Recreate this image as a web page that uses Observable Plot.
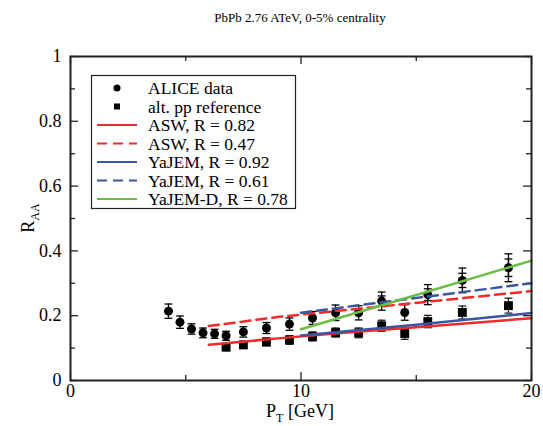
<!DOCTYPE html>
<html><head><meta charset="utf-8">
<script src="https://cdn.jsdelivr.net/npm/d3@7"></script>
<script src="https://cdn.jsdelivr.net/npm/@observablehq/plot@0.6"></script>
<style>body{margin:0;background:#fff} svg text{font-family:'Liberation Serif','Times New Roman',serif !important}</style>
</head><body><div id="chart"></div>
<script>
// ALICE data (circles)
const aliceX = [4.25,4.75,5.25,5.75,6.25,6.75,7.5,8.5,9.5,10.5,11.5,12.5,13.5,14.5,15.5,17,19];
const aliceY = [0.214,0.180,0.159,0.147,0.144,0.138,0.150,0.162,0.174,0.193,0.209,0.209,0.245,0.210,0.265,0.309,0.348];
const aliceSys = [0.022,0.019,0.016,0.015,0.014,0.014,0.016,0.017,0.019,0.020,0.024,0.022,0.028,0.024,0.031,0.038,0.043];
const aliceStat = [null,null,null,null,null,null,null,null,null,null,null,null,0.016,null,0.018,0.022,0.027];
// alt. pp reference (squares)
const ppX = [6.75,7.5,8.5,9.5,10.5,11.5,12.5,13.5,14.5,15.5,17,19];
const ppY = [0.103,0.110,0.119,0.125,0.136,0.148,0.147,0.169,0.145,0.182,0.210,0.231];
const ppErr = [0.011,0.011,0.012,0.013,0.014,0.014,0.015,0.017,0.018,0.019,0.020,0.023];
// model curves
const asw082X = [6,9,12,16,20], asw082Y = [0.110,0.130,0.148,0.170,0.192];
const asw047X = [6,9,12,16,20], asw047Y = [0.168,0.196,0.218,0.247,0.276];
const yaj092X = [10,15,20], yaj092Y = [0.139,0.172,0.208];
const yaj061X = [10,15,20], yaj061Y = [0.209,0.255,0.300];
const yajDX = [10,15,20], yajDY = [0.158,0.264,0.370];
// ticks and labels
const xMajor = [0,10,20], xMinor = [5,15];
const yMajor = [0,0.2,0.4,0.6,0.8,1], yMinor = [0.1,0.3,0.5,0.7,0.9];
const titleText = "PbPb 2.76 ATeV, 0-5% centrality";
const legendLabels = ["ALICE data","alt. pp reference","ASW, R = 0.82","ASW, R = 0.47","YaJEM, R = 0.92","YaJEM, R = 0.61","YaJEM-D, R = 0.78"];

const RED = "#ee2b2b", BLUE = "#3a55a4", GREEN = "#6cbd45";
const W = 543, H = 426, mL = 70, mR = 12, mT = 56, mB = 46;
const fH = H - mT - mB, fW = W - mL - mR;
const FONT = "Liberation Serif, Times New Roman, serif";

const alice = aliceX.map((x,i)=>({x, y:aliceY[i], sys:aliceSys[i], stat:aliceStat[i]}));
const aliceS = alice.filter(d=>d.stat!=null);
const pp = ppX.map((x,i)=>({x, y:ppY[i], e:ppErr[i]}));
const mk = (xs,ys)=>xs.map((x,i)=>({x, y:ys[i]}));
const capW = 0.17;

function errMarks(data, lo, hi, stroke){
  return [
    Plot.ruleX(data, {x:"x", y1:lo, y2:hi, stroke, strokeWidth:1.3}),
    Plot.link(data, {x1:d=>d.x-capW, x2:d=>d.x+capW, y1:lo, y2:lo, stroke, strokeWidth:1.3}),
    Plot.link(data, {x1:d=>d.x-capW, x2:d=>d.x+capW, y1:hi, y2:hi, stroke, strokeWidth:1.3})
  ];
}

const plot = Plot.plot({
  width: W, height: H, marginLeft: mL, marginRight: mR, marginTop: mT, marginBottom: mB,
  x: {domain:[0,20]}, y: {domain:[0,1]},
  style: {fontFamily: FONT, fontSize: "18px", background: "white", color: "black"},
  marks: [
    Plot.axisX({ticks: xMajor, tickSize: 0, tickPadding: 4, label: null, fontFamily: FONT, fontSize: 18, tickFormat: d=>String(d)}),
    Plot.axisY({ticks: yMajor, tickSize: 0, tickPadding: 9, label: null, fontFamily: FONT, fontSize: 18, tickFormat: d=> (d===0||d===1) ? String(d) : d.toFixed(1)}),
    Plot.tickX(xMajor, {x:d=>d, insetTop: fH-8, stroke:"#222", strokeWidth:1.3}),
    Plot.tickX(xMajor, {x:d=>d, insetBottom: fH-8, stroke:"#222", strokeWidth:1.3}),
    Plot.tickX(xMinor, {x:d=>d, insetTop: fH-5, stroke:"#222", strokeWidth:1.3}),
    Plot.tickX(xMinor, {x:d=>d, insetBottom: fH-5, stroke:"#222", strokeWidth:1.3}),
    Plot.tickY(yMajor, {y:d=>d, insetRight: fW-8, stroke:"#222", strokeWidth:1.3}),
    Plot.tickY(yMajor, {y:d=>d, insetLeft: fW-8, stroke:"#222", strokeWidth:1.3}),
    Plot.tickY(yMinor, {y:d=>d, insetRight: fW-5, stroke:"#222", strokeWidth:1.3}),
    Plot.tickY(yMinor, {y:d=>d, insetLeft: fW-5, stroke:"#222", strokeWidth:1.3}),
    ...errMarks(pp, d=>d.y-d.e, d=>d.y+d.e, "#222"),
    ...errMarks(alice, d=>d.y-d.sys, d=>d.y+d.sys, "black"),
    ...errMarks(aliceS, d=>d.y-d.stat, d=>d.y+d.stat, "black"),
    Plot.dot(pp, {x:"x", y:"y", symbol:"square", r:5, fill:"black"}),
    Plot.dot(alice, {x:"x", y:"y", r:4.5, fill:"black"}),
    Plot.line(mk(asw082X,asw082Y), {x:"x", y:"y", stroke:RED, strokeWidth:2.5}),
    Plot.line(mk(asw047X,asw047Y), {x:"x", y:"y", stroke:RED, strokeWidth:2.5, strokeDasharray:"10,6"}),
    Plot.line(mk(yaj092X,yaj092Y), {x:"x", y:"y", stroke:BLUE, strokeWidth:2.5}),
    Plot.line(mk(yaj061X,yaj061Y), {x:"x", y:"y", stroke:BLUE, strokeWidth:2.5, strokeDasharray:"10,6"}),
    Plot.line(mk(yajDX,yajDY), {x:"x", y:"y", stroke:GREEN, strokeWidth:2.5}),
    Plot.frame({stroke:"#222", strokeWidth:2})
  ]
});
document.getElementById("chart").appendChild(plot);

const svg = d3.select(plot);
// title
svg.append("text").attr("x", 300).attr("y", 22).attr("text-anchor","middle")
  .attr("font-family", FONT).attr("font-size", 13).attr("fill","black").text(titleText);
// x label
const xl = svg.append("text").attr("x", 300).attr("y", 417).attr("text-anchor","middle")
  .attr("font-family", FONT).attr("font-size", 18).attr("fill","black");
xl.append("tspan").text("P");
xl.append("tspan").attr("font-size", 12).attr("dy", 5).text("T");
xl.append("tspan").attr("dy", -5).text(" [GeV]");
// y label
const yl = svg.append("text").attr("transform","translate(34,218) rotate(-90)").attr("text-anchor","middle")
  .attr("font-family", FONT).attr("font-size", 18).attr("fill","black");
yl.append("tspan").text("R");
yl.append("tspan").attr("font-size", 12).attr("dy", 5).text("AA");

// legend
const lg = svg.append("g").attr("font-family", FONT).attr("font-size", 17.5).attr("fill","black").attr("text-anchor","start");
const bx = 91.5, by = 75.5, bw = 204, rowH = 18.5, row0 = 88;
lg.append("rect").attr("x", bx).attr("y", by).attr("width", bw).attr("height", 133)
  .attr("fill","white").attr("stroke","#222").attr("stroke-width",1.2);
const styles = [
  {type:"circle"}, {type:"square"},
  {type:"line", stroke:RED}, {type:"line", stroke:RED, dash:"10,6"},
  {type:"line", stroke:BLUE}, {type:"line", stroke:BLUE, dash:"10,6"},
  {type:"line", stroke:GREEN}
];
legendLabels.forEach((lab,i)=>{
  const cy = row0 + i*rowH, s = styles[i];
  if (s.type==="circle") lg.append("circle").attr("cx",117).attr("cy",cy).attr("r",3.5).attr("fill","black");
  else if (s.type==="square") lg.append("rect").attr("x",114).attr("y",cy-3).attr("width",6).attr("height",6).attr("fill","black");
  else lg.append("line").attr("x1",97).attr("x2",137).attr("y1",cy).attr("y2",cy)
        .attr("stroke",s.stroke).attr("stroke-width",2).attr("stroke-dasharray",s.dash||null);
  lg.append("text").attr("x",148).attr("y",cy).attr("dy","0.35em").attr("text-anchor","start").text(lab);
});
</script>
</body></html>
